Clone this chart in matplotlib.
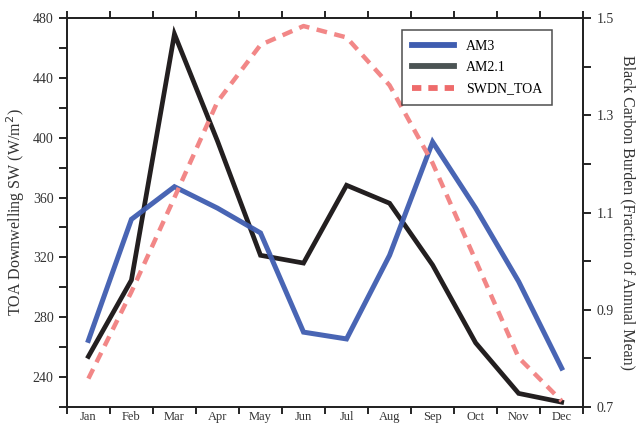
import matplotlib
matplotlib.use("Agg")
import matplotlib.pyplot as plt
from matplotlib.lines import Line2D
from matplotlib.ticker import MultipleLocator, FixedLocator, NullFormatter

plt.rcParams['font.family'] = ['Liberation Serif', 'DejaVu Serif']

months = ["Jan", "Feb", "Mar", "Apr", "May", "Jun",
          "Jul", "Aug", "Sep", "Oct", "Nov", "Dec"]
month_num = list(range(1, 13))

# black carbon burden, fraction of annual mean (right axis)
am3 = [0.837, 1.086, 1.153, 1.109, 1.058, 0.854, 0.840, 1.012, 1.245, 1.109, 0.958, 0.780]
am21 = [0.804, 0.961, 1.467, 1.247, 1.012, 0.996, 1.156, 1.119, 0.992, 0.832, 0.728, 0.710]
# TOA downwelling shortwave, W/m2 (left axis)
swdn_toa = [239, 297, 360, 424, 462, 474.6, 467, 435, 383, 318, 253, 224]

c_blue = "#3f5db0"
c_black = "#231f20"
c_pink = "#f28787"

fig = plt.figure(figsize=(6.43, 4.28), dpi=100)
ax = fig.add_axes([0.104, 0.049, 0.803, 0.909])
ax2 = ax.twinx()

ax.plot(month_num, swdn_toa, color=c_pink, lw=3.2, dashes=(2.4, 1.7), zorder=2)
ax2.plot(month_num, am21, color=c_black, lw=3.4, solid_joinstyle='miter', zorder=3)
ax2.plot(month_num, am3, color=c_blue, lw=3.6, alpha=0.95, solid_joinstyle='miter', zorder=4)

ax.set_zorder(ax2.get_zorder() + 1)
ax.patch.set_visible(False)

ax.set_xlim(0.5, 12.5)
ax.set_ylim(220, 480)
ax2.set_ylim(0.7, 1.5)

# month boundaries as ticks, names centred on each month
ax.xaxis.set_major_locator(FixedLocator([m + 0.5 for m in range(0, 13)]))
ax.xaxis.set_major_formatter(NullFormatter())
ax.xaxis.set_minor_locator(FixedLocator(month_num))
ax.set_xticklabels(months, minor=True)
ax.tick_params(axis='x', which='major', direction='out', length=5, width=1.2,
               top=True, bottom=True)
ax.tick_params(axis='x', which='minor', length=0, labelsize=9, pad=3, labelcolor="#333333")

ax.yaxis.set_major_locator(MultipleLocator(40))
ax.yaxis.set_minor_locator(MultipleLocator(20))
ax.set_yticks([240, 280, 320, 360, 400, 440, 480])
ax.tick_params(axis='y', which='major', direction='out', length=6, width=1.2,
               labelsize=10, labelcolor="#333333")
ax.tick_params(axis='y', which='minor', direction='out', length=6, width=1.2)

ax2.yaxis.set_major_locator(FixedLocator([0.7, 0.9, 1.1, 1.3, 1.5]))
ax2.yaxis.set_minor_locator(FixedLocator([0.8, 1.0, 1.2, 1.4]))
ax2.tick_params(axis='y', which='major', direction='out', length=6, width=1.2,
                labelsize=10, labelcolor="#333333")
ax2.tick_params(axis='y', which='minor', direction='out', length=6, width=1.2)

for a in (ax, ax2):
    for s in a.spines.values():
        s.set_linewidth(1.3)
        s.set_color("#222222")

ax.set_ylabel("TOA Downwelling SW (W/m$^2$)", fontsize=11.5, labelpad=4, color="#333333")
ax2.set_ylabel("Black Carbon Burden (Fraction of Annual Mean)", fontsize=11.5,
               rotation=270, labelpad=16, color="#333333")

handles = [
    Line2D([], [], color="#3f5db0", lw=4.2),
    Line2D([], [], color="#4b5454", lw=4.2),
    Line2D([], [], color="#ee6b6b", lw=4.2, dashes=(1.6, 1.2)),
]
leg = ax.legend(handles, ["AM3", "AM2.1", "SWDN_TOA"], loc='upper right',
                bbox_to_anchor=(0.94, 0.969), fontsize=10, handlelength=3.0,
                frameon=True, fancybox=False, borderpad=0.7, labelspacing=0.6,
                handletextpad=0.9, borderaxespad=0)
leg.get_frame().set_edgecolor("#222222")
leg.get_frame().set_linewidth(1.1)

fig.savefig("out.png", dpi=100)
